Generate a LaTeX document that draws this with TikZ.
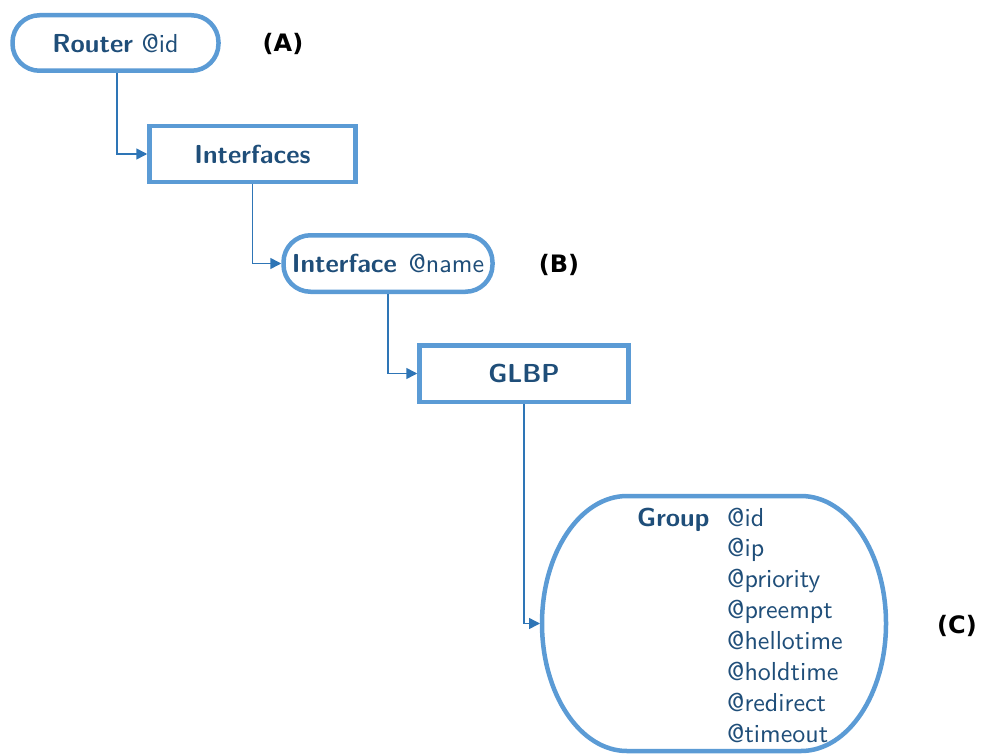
\documentclass[tikz,border=0pt]{standalone}
\usepackage{fontspec}
\setsansfont{lmsans10-regular.otf}[BoldFont=lmsans10-bold.otf]
\newfontfamily\lblfont{DejaVu Sans}
\usetikzlibrary{arrows.meta}
\definecolor{boxline}{HTML}{5B9BD5}
\definecolor{conn}{HTML}{2E75B6}
\definecolor{txt}{HTML}{1F4E79}
\tikzset{
  x=1pt, y=-1pt,
  mainfont/.style={font=\sffamily\fontsize{26}{30}\selectfont},
  stadium/.style={draw=boxline, line width=4.5pt, fill=white, rounded corners=27pt, minimum width=206pt, minimum height=55.5pt, inner sep=0pt, text=txt, mainfont},
  boxnode/.style={draw=boxline, line width=4.5pt, fill=white, minimum width=206pt, minimum height=55.5pt, inner sep=0pt, text=txt, mainfont},
  attr/.style={anchor=base west, inner sep=0pt, text=txt, mainfont},
  tag/.style={font=\lblfont\bfseries\fontsize{24}{28}\selectfont, text=black},
  link/.style={draw=conn, line width=1.5pt, -{Triangle[length=11pt,width=11pt]}}
}
\begin{document}
\begin{tikzpicture}
\useasboundingbox (0,0) rectangle (981,754);
\node[stadium] (router) at (115.5,43) {\textbf{Router} @id};
\node[tag] (tagA) at (283,44) {(A)};
\node[boxnode] (ifaces) at (252.5,154) {\textbf{Interfaces}};
\node[stadium, minimum width=209pt, minimum height=56.5pt] (iface) at (388,263.5) {\textbf{Interface}\hspace{3pt} @name};
\node[tag] (tagB) at (559,265) {(B)};
\node[boxnode, minimum width=209pt, minimum height=56.5pt] (glbp) at (524,373.5) {\textbf{GLBP}};
\node[minimum width=348pt, minimum height=259pt, inner sep=0pt, outer sep=0pt] (group) at (714,623.5) {};
\draw[boxline, line width=4.5pt] (627,496) -- (801,496)
  .. controls (847.95,496) and (886,553.1) .. (886,623.5)
  .. controls (886,693.9) and (847.95,751) .. (801,751)
  -- (627,751)
  .. controls (580.05,751) and (542,693.9) .. (542,623.5)
  .. controls (542,553.1) and (580.05,496) .. (627,496) -- cycle;
\node[attr] (gname) at (637,526) {\textbf{Group}};
\node[attr] (a1) at (727,526) {@id};
\node[attr] (a2) at (727,556.9) {@ip};
\node[attr] (a3) at (727,587.7) {@priority};
\node[attr] (a4) at (727,618.6) {@preempt};
\node[attr] (a5) at (727,649.4) {@hellotime};
\node[attr] (a6) at (727,680.3) {@holdtime};
\node[attr] (a7) at (727,711.1) {@redirect};
\node[attr] (a8) at (727,742) {@timeout};
\node[tag] (tagC) at (957,626) {(C)};
\draw[link] (router.south -| 117,0) |- (ifaces.west);
\draw[link] (ifaces.south) |- (iface.west);
\draw[link] (iface.south) |- (glbp.west);
\draw[link] (glbp.south) |- (group.west);
\end{tikzpicture}
\end{document}
